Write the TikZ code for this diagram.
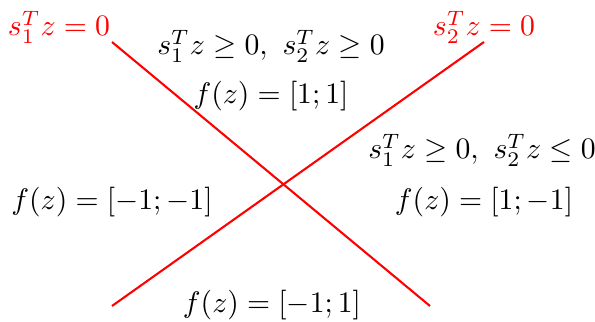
\documentclass[tikz,border=0pt]{standalone}
\usepackage{amsmath}
\usepackage{amssymb}
\usetikzlibrary{positioning, calc}

\begin{document}
\begin{tikzpicture}[
  x=0.3367pt, y=-0.3367pt,
  region/.style={inner sep=0pt, font=\normalsize},
  plane/.style={region, red},
  cut/.style={red, line width=0.7pt}
]
  \useasboundingbox (0,0) rectangle (595,322);
  % end points of the two hyperplanes
  \coordinate (p1a) at (112,42);
  \coordinate (p1b) at (430,306);
  \coordinate (p2a) at (112,306);
  \coordinate (p2b) at (484,42);

  % hyperplanes
  \draw[cut] (p1a) -- (p1b);
  \draw[cut] (p2a) -- (p2b);

  % hyperplane labels
  \node[plane] (h1) at (59,27) {$s_1^Tz=0$};
  \node[plane] (h2) at (484,27) {$s_2^Tz=0$};

  % regions
  \node[region] (topcond) at (271,46) {$s_1^Tz\geq 0,\ s_2^Tz\geq 0$};
  \node[region] (topf) at (271,96) {$f(z)=[1;1]$};
  \node[region] (rightcond) at (482,150) {$s_1^Tz\geq 0,\ s_2^Tz\leq 0$};
  \node[region] (rightf) at (484,202) {$f(z)=[1;-1]$};
  \node[region] (leftf) at (112,202) {$f(z)=[-1;-1]$};
  \node[region] (botf) at (272,305) {$f(z)=[-1;1]$};
\end{tikzpicture}
\end{document}
